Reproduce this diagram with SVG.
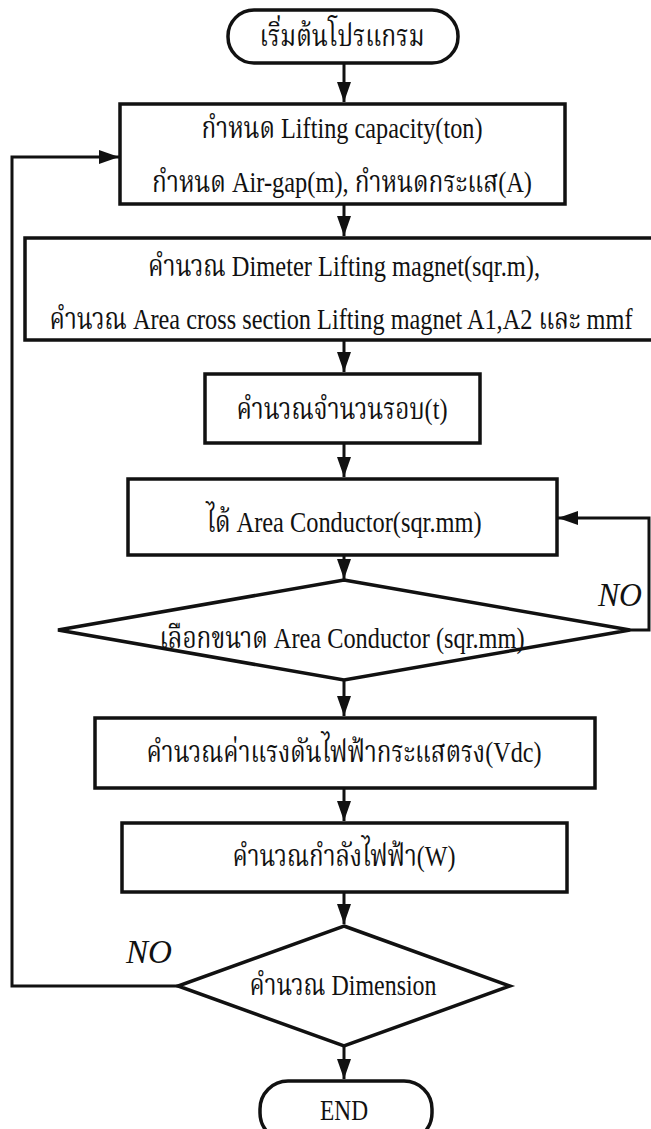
<svg xmlns="http://www.w3.org/2000/svg" width="651" height="1129" viewBox="0 0 651 1129">
<defs>
<style>
.n{fill:#fff;stroke:#111;stroke-width:3.5}
.t{font-family:"Liberation Serif","Noto Serif Thai","Noto Sans Thai",serif;font-size:30px;fill:#111;text-anchor:middle}
.no{font-family:"Liberation Serif",serif;font-size:34px;font-style:italic;fill:#111}
.c{fill:none;stroke:#111;stroke-width:3}
</style>
<marker id="ah" viewBox="0 0 20 14" refX="20" refY="7" markerWidth="20" markerHeight="14" markerUnits="userSpaceOnUse" orient="auto"><path d="M0,0 L20,7 L0,14 z" fill="#111"/></marker>
</defs>
<rect width="651" height="1129" fill="#fff"/>
<g id="connectors">
<path class="c" d="M344,63 V102" marker-end="url(#ah)"/>
<path class="c" d="M344,205 V236" marker-end="url(#ah)"/>
<path class="c" d="M344,340 V372" marker-end="url(#ah)"/>
<path class="c" d="M344,444 V477" marker-end="url(#ah)"/>
<path class="c" d="M344,556 V579" marker-end="url(#ah)"/>
<path class="c" d="M344,680 V716" marker-end="url(#ah)"/>
<path class="c" d="M344,789 V821" marker-end="url(#ah)"/>
<path class="c" d="M344,893 V924" marker-end="url(#ah)"/>
<path class="c" d="M344,1046 V1079" marker-end="url(#ah)"/>
<path class="c" d="M630,630 H649 V518 H558" marker-end="url(#ah)"/>
<path class="c" d="M178,986 H12 V157 H119" marker-end="url(#ah)"/>
<text class="no" x="598" y="606" textLength="44" lengthAdjust="spacingAndGlyphs">NO</text>
<text class="no" x="126" y="963" textLength="46" lengthAdjust="spacingAndGlyphs">NO</text>
</g>
<g id="start">
<rect class="n" x="228" y="10" width="230" height="53" rx="26"/>
<text class="t" x="342" y="46" textLength="165" lengthAdjust="spacingAndGlyphs">เริ่มต้นโปรแกรม</text>
</g>
<g id="input">
<rect class="n" x="120" y="104" width="445" height="100"/>
<text class="t" x="342" y="138" textLength="281" lengthAdjust="spacingAndGlyphs">กำหนด Lifting capacity(ton)</text>
<text class="t" x="342" y="192" textLength="380" lengthAdjust="spacingAndGlyphs">กำหนด Air-gap(m), กำหนดกระแส(A)</text>
</g>
<g id="calc-area">
<rect class="n" x="25" y="238" width="640" height="102"/>
<text class="t" x="344" y="276" textLength="392" lengthAdjust="spacingAndGlyphs">คำนวณ Dimeter Lifting magnet(sqr.m),</text>
<text class="t" x="341" y="329" textLength="583" lengthAdjust="spacingAndGlyphs">คำนวณ Area cross section Lifting magnet A1,A2 และ mmf</text>
</g>
<g id="calc-turns">
<rect class="n" x="205" y="374" width="275" height="69"/>
<text class="t" x="342" y="419" textLength="211" lengthAdjust="spacingAndGlyphs">คำนวณจำนวนรอบ(t)</text>
</g>
<g id="area-conductor">
<rect class="n" x="128" y="479" width="429" height="76"/>
<text class="t" x="344" y="532" textLength="275" lengthAdjust="spacingAndGlyphs">ได้ Area Conductor(sqr.mm)</text>
</g>
<g id="select-conductor">
<polygon class="n" points="344,580 630,630 344,680 58,630"/>
<text class="t" x="342" y="648" textLength="365" lengthAdjust="spacingAndGlyphs">เลือกขนาด Area Conductor (sqr.mm)</text>
</g>
<g id="calc-vdc">
<rect class="n" x="95" y="718" width="500" height="70"/>
<text class="t" x="344" y="762" textLength="395" lengthAdjust="spacingAndGlyphs">คำนวณค่าแรงดันไฟฟ้ากระแสตรง(Vdc)</text>
</g>
<g id="calc-power">
<rect class="n" x="122" y="823" width="445" height="69"/>
<text class="t" x="344" y="866" textLength="223" lengthAdjust="spacingAndGlyphs">คำนวณกำลังไฟฟ้า(W)</text>
</g>
<g id="dimension">
<polygon class="n" points="344,926 510,986 344,1046 178,986"/>
<text class="t" x="343" y="995" textLength="187" lengthAdjust="spacingAndGlyphs">คำนวณ Dimension</text>
</g>
<g id="end">
<rect class="n" x="260" y="1081" width="172" height="60" rx="28"/>
<text class="t" x="344" y="1120" textLength="48" lengthAdjust="spacingAndGlyphs">END</text>
</g>
</svg>
